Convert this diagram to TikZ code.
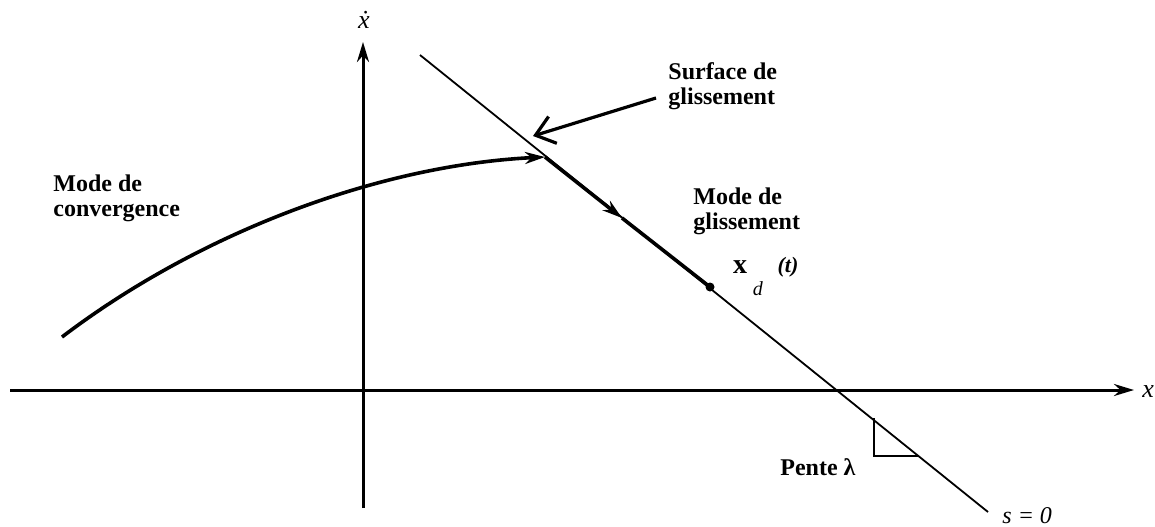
\documentclass[tikz,border=0pt]{standalone}
\usepackage{fontspec}
\setmainfont{Liberation Serif}
\usetikzlibrary{arrows.meta}
\begin{document}
\begin{tikzpicture}[x=0.5pt,y=-0.5pt,
  lbl/.style={font=\fontsize{12}{12.5}\selectfont\bfseries, align=left, inner sep=0pt, anchor=north west},
  axis/.style={line width=1.5pt, -{Stealth[length=10pt,width=6pt]}},
  thin line/.style={line width=0.9pt},
  traj/.style={line width=1.8pt}]
\useasboundingbox (0,0) rectangle (1155,526);
% axes
\coordinate (xl) at (10,390);
\coordinate (xr) at (1134,390);
\coordinate (yb) at (363,508);
\coordinate (yt) at (363,42);
\draw[axis] (xl) -- (xr);
\draw[axis] (yb) -- (yt);
\node[inner sep=0pt] (xlab) at (1148,392) {\fontsize{13}{13}\selectfont\textit{x}};
\node[inner sep=0pt] (ylab) at (364,20) {\fontsize{13}{13}\selectfont\textit{\.x}};
% sliding surface
\coordinate (s1) at (420,55);
\coordinate (s2) at (988,512);
\draw[thin line] (s1) -- (s2);
\node[inner sep=0pt, anchor=west] (s0) at (1002,516) {\fontsize{12}{12}\selectfont\textit{s = 0}};
% convergence trajectory
\coordinate (c0) at (62,337);
\coordinate (c1) at (545,157);
\draw[traj, -{Stealth[length=10pt,width=6pt]}] (c0) .. controls (200,232) and (380,165) .. (c1);
% sliding motion
\coordinate (m) at (622,218);
\coordinate (d) at (710,287);
\draw[traj, -{Stealth[length=10pt,width=6pt]}] (c1) -- (m);
\draw[traj] (m) -- (d);
\fill (d) circle (4.5);
% labels
\node[lbl] (conv) at (53,174) {Mode de\\convergence};
\node[lbl] (glis) at (693,187) {Mode de\\glissement};
\node[lbl] (surf) at (668,62) {Surface de\\glissement};
\coordinate (atail) at (656,98);
\coordinate (atip) at (533,136);
\draw[line width=1.6pt, -{Straight Barb[length=9pt,width=14pt,line width=1.6pt]}] (atail) -- (atip);
% x_d(t)
\node[inner sep=0pt] (xd) at (740,267) {\fontsize{14}{14}\selectfont\bfseries x};
\node[inner sep=0pt] (dd) at (758,289) {\fontsize{10}{10}\selectfont\textit{d}};
\node[inner sep=0pt] (tt) at (788,267) {\fontsize{11}{11}\selectfont\textit{\textbf{(t)}}};
% slope triangle
\coordinate (t1) at (874,418);
\coordinate (t2) at (874,456);
\coordinate (t3) at (918,456);
\draw[line width=1.2pt] (t1) -- (t2) -- (t3);
\node[lbl, anchor=west] (pente) at (780,467) {Pente \textbf{λ}};
\end{tikzpicture}
\end{document}
